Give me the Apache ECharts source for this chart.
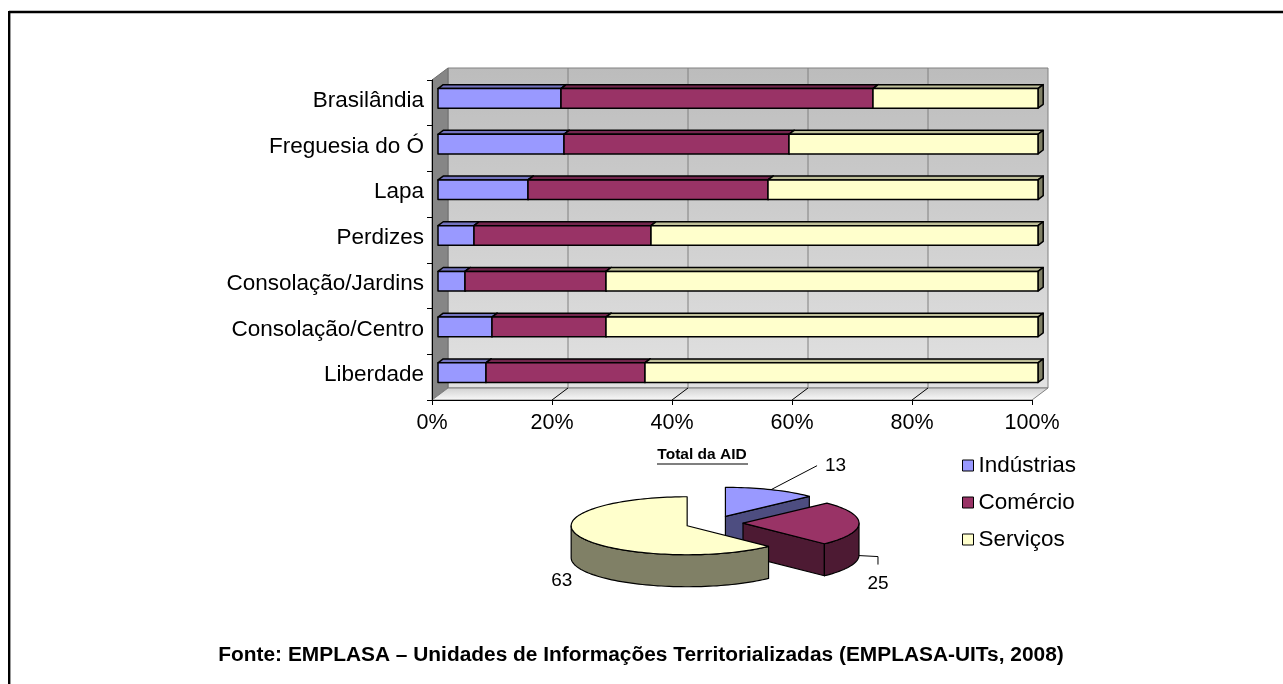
<!DOCTYPE html>
<html>
<head>
<meta charset="utf-8">
<script src="https://cdn.jsdelivr.net/npm/echarts@6/dist/echarts.min.js"></script>
<style>
  html, body { margin: 0; padding: 0; background: #ffffff; }
  #chart { width: 1283px; height: 684px; }
</style>
</head>
<body>
<div id="chart"></div>
<script>
// ---- data ----
const categories = ['Brasilândia', 'Freguesia do Ó', 'Lapa', 'Perdizes', 'Consolação/Jardins', 'Consolação/Centro', 'Liberdade'];
const seriesNames = ['Indústrias', 'Comércio', 'Serviços'];
const industrias = [20.5, 21, 15, 6, 4.5, 9, 8];
const comercio   = [52, 37.5, 40, 29.5, 23.5, 19, 26.5];
const servicos   = [27.5, 41.5, 45, 64.5, 72, 72, 65.5];
const pieTitle = 'Total da AID';
const pieValues = [13, 25, 63];
const footerText = 'Fonte: EMPLASA – Unidades de Informações Territorializadas (EMPLASA-UITs, 2008)';

// ---- styling / layout ----
const FONT = '"Liberation Sans", Arial, sans-serif';
const faceColors = ['#9999FF', '#993366', '#FFFFCC'];
const topColors  = ['#7373BF', '#73264D', '#BFBF99'];
const sideColors = ['#4D4D80', '#4D1A33', '#808066'];
const DEPTH = { dx: 16, dy: -12 };          // oblique depth of the 3D box
const BAR_FRONT = 0.375, BAR_BACK = 0.7;    // bar position inside the depth
const BAR_RATIO = 0.43;                     // bar thickness relative to band
const PIE = { cx: 714, cy: 523, rx: 116, ry: 29, depth: 32, explode: 0.25 };

// stacked [start, end, categoryIndex] per series
const stacks = [industrias, comercio, servicos];
const stackData = stacks.map((arr, k) => arr.map((v, i) => {
  let start = 0;
  for (let j = 0; j < k; j++) start += stacks[j][i];
  return [start, start + v, i];
}));

// pie angles, clockwise from 12 o'clock
const pieTotal = pieValues.reduce((a, b) => a + b, 0);
const pieAngles = [];
(function () {
  let acc = 0;
  pieValues.forEach(v => {
    const a0 = acc / pieTotal * 360;
    acc += v;
    pieAngles.push([a0, acc / pieTotal * 360]);
  });
})();
// label placement relative to the slice anchor
const pieLabelLayout = [
  { line: [[46, -24]], text: [54, -24], align: 'left' },
  { line: [[19, 1], [19, 9]], text: [19, 28], align: 'center' },
  { line: [], text: [-18, 12], align: 'center' }
];

// ---- 3D box walls ----
function wallRender(params, api) {
  const cs = params.coordSys;
  const x = cs.x, y = cs.y, w = cs.width, h = cs.height;
  const dx = DEPTH.dx, dy = DEPTH.dy;
  const children = [];
  children.push({
    type: 'polygon',
    shape: { points: [[x + dx, y + dy], [x + w + dx, y + dy], [x + w + dx, y + h + dy], [x + dx, y + h + dy]] },
    style: {
      fill: new echarts.graphic.LinearGradient(0, 0, 0, 1, [
        { offset: 0, color: '#BCBCBC' }, { offset: 1, color: '#E2E2E2' }
      ]),
      stroke: '#808080', lineWidth: 1
    }
  });
  children.push({
    type: 'polygon',
    shape: { points: [[x, y], [x + dx, y + dy], [x + dx, y + h + dy], [x, y + h]] },
    style: { fill: '#868686', stroke: '#6E6E6E', lineWidth: 1 }
  });
  children.push({
    type: 'polygon',
    shape: { points: [[x, y + h], [x + w, y + h], [x + w + dx, y + h + dy], [x + dx, y + h + dy]] },
    style: {
      fill: new echarts.graphic.LinearGradient(0, 0, 0, 1, [
        { offset: 0, color: '#D0D0D0' }, { offset: 1, color: '#FAFAFA' }
      ]),
      stroke: '#808080', lineWidth: 1
    }
  });
  [20, 40, 60, 80].forEach(v => {
    const px = api.coord([v, 0])[0];
    children.push({
      type: 'line',
      shape: { x1: px + dx, y1: y + dy, x2: px + dx, y2: y + h + dy },
      style: { stroke: '#808080', lineWidth: 1 }
    });
    children.push({
      type: 'line',
      shape: { x1: px, y1: y + h, x2: px + dx, y2: y + h + dy },
      style: { stroke: '#000', lineWidth: 1 }
    });
  });
  return { type: 'group', children: children, silent: true };
}

// ---- 3D bar segments ----
function barRender(k) {
  return function (params, api) {
    const s = api.value(0), e = api.value(1), ci = api.value(2);
    const a = api.coord([s, ci]), b = api.coord([e, ci]);
    const band = api.size([0, 1])[1];
    const h = band * BAR_RATIO;
    const fx = DEPTH.dx * BAR_FRONT, fy = DEPTH.dy * BAR_FRONT;
    const tdx = DEPTH.dx * (BAR_BACK - BAR_FRONT), tdy = DEPTH.dy * (BAR_BACK - BAR_FRONT);
    const x0 = a[0] + fx, x1 = b[0] + fx;
    const yc = a[1] + fy, y0 = yc - h / 2, y1 = yc + h / 2;
    const line = { stroke: '#000', lineWidth: 1.5, lineJoin: 'round' };
    return {
      type: 'group',
      children: [
        { type: 'polygon', shape: { points: [[x0, y0], [x1, y0], [x1 + tdx, y0 + tdy], [x0 + tdx, y0 + tdy]] },
          style: Object.assign({ fill: topColors[k] }, line) },
        { type: 'polygon', shape: { points: [[x1, y0], [x1 + tdx, y0 + tdy], [x1 + tdx, y1 + tdy], [x1, y1]] },
          style: Object.assign({ fill: sideColors[k] }, line) },
        { type: 'rect', shape: { x: x0, y: y0, width: x1 - x0, height: h },
          style: Object.assign({ fill: faceColors[k] }, line) }
      ]
    };
  };
}

// ---- 3D pie ----
function rimPoint(c, deg, dz) {
  const r = deg * Math.PI / 180;
  return [c[0] + PIE.rx * Math.sin(r), c[1] - PIE.ry * Math.cos(r) + (dz || 0)];
}
function arcPoints(c, a0, a1, dz) {
  const pts = [];
  const n = Math.max(2, Math.ceil((a1 - a0) / 2));
  for (let i = 0; i <= n; i++) pts.push(rimPoint(c, a0 + (a1 - a0) * i / n, dz));
  return pts;
}
function pieRender(params, api) {
  const idx = params.dataIndex;
  const val = api.value(0);
  const a0 = pieAngles[idx][0], a1 = pieAngles[idx][1];
  const mid = (a0 + a1) / 2, mr = mid * Math.PI / 180;
  const c = [PIE.cx + PIE.rx * PIE.explode * Math.sin(mr), PIE.cy - PIE.ry * PIE.explode * Math.cos(mr)];
  const d = PIE.depth;
  const line = { stroke: '#000', lineWidth: 1.2, lineJoin: 'round' };
  const kids = [];
  // cut faces that face the viewer
  if (a1 > 0 && a1 < 180) {
    const p = rimPoint(c, a1);
    kids.push({ type: 'polygon', shape: { points: [c, p, [p[0], p[1] + d], [c[0], c[1] + d]] },
      style: Object.assign({ fill: sideColors[idx] }, line) });
  }
  if (a0 > 180 && a0 < 360) {
    const p = rimPoint(c, a0);
    kids.push({ type: 'polygon', shape: { points: [c, p, [p[0], p[1] + d], [c[0], c[1] + d]] },
      style: Object.assign({ fill: sideColors[idx] }, line) });
  }
  // outer wall on the front half
  const w0 = Math.max(a0, 90), w1 = Math.min(a1, 270);
  if (w1 > w0) {
    const top = arcPoints(c, w0, w1, 0);
    const bottom = arcPoints(c, w0, w1, d).reverse();
    kids.push({ type: 'polygon', shape: { points: top.concat(bottom) },
      style: Object.assign({ fill: sideColors[idx] }, line) });
  }
  // top face
  kids.push({ type: 'polygon', shape: { points: [c].concat(arcPoints(c, a0, a1, 0)) },
    style: Object.assign({ fill: faceColors[idx] }, line) });
  // value label
  const anchor = rimPoint(c, mid, (mid > 90 && mid < 270) ? d : 0);
  const lay = pieLabelLayout[idx];
  if (lay.line.length) {
    kids.push({ type: 'polyline',
      shape: { points: [anchor].concat(lay.line.map(o => [anchor[0] + o[0], anchor[1] + o[1]])) },
      style: { stroke: '#000', lineWidth: 1, fill: null } });
  }
  kids.push({ type: 'text', style: {
    text: String(val), x: anchor[0] + lay.text[0], y: anchor[1] + lay.text[1],
    align: lay.align, verticalAlign: 'middle', fill: '#000', fontSize: 19, fontFamily: FONT } });
  return { type: 'group', children: kids, z2: idx * 10 };
}

const chart = echarts.init(document.getElementById('chart'), null, { renderer: 'canvas' });
const option = {
  animation: false,
  backgroundColor: '#ffffff',
  textStyle: { fontFamily: FONT },
  grid: { left: 432, top: 80, width: 600, height: 320, containLabel: false },
  xAxis: {
    type: 'value', min: 0, max: 100, interval: 20, z: 10,
    axisLine: { show: true, lineStyle: { color: '#000', width: 1 } },
    axisTick: { show: true, length: 5, lineStyle: { color: '#000' } },
    axisLabel: { formatter: '{value}%', fontSize: 21.5, color: '#000', margin: 12, fontFamily: FONT },
    splitLine: { show: false }
  },
  yAxis: {
    type: 'category', data: categories, inverse: true, z: 10,
    axisLine: { show: true, lineStyle: { color: '#000', width: 1 } },
    axisTick: { show: true, length: 5, lineStyle: { color: '#000' } },
    // labels sit level with the bars, which are set back into the depth
    axisLabel: { fontSize: 22.5, color: '#000', margin: 8, verticalAlign: 'bottom', lineHeight: 4, fontFamily: FONT }
  },
  legend: {
    orient: 'vertical', left: 957, top: 449, itemWidth: 11, itemHeight: 11, itemGap: 14,
    icon: 'rect',
    textStyle: { fontSize: 22.5, color: '#000', fontFamily: FONT },
    data: seriesNames.map((n, i) => ({ name: n, itemStyle: { color: faceColors[i], borderColor: '#000', borderWidth: 1 } }))
  },
  graphic: [
    { type: 'line', shape: { x1: 9, y1: 12, x2: 1283, y2: 12 }, style: { stroke: '#000', lineWidth: 2.4 } },
    { type: 'line', shape: { x1: 9.2, y1: 11, x2: 9.2, y2: 684 }, style: { stroke: '#000', lineWidth: 2.4 } },
    { type: 'text', x: 702, y: 455, style: { text: pieTitle, align: 'center', verticalAlign: 'middle',
        fontSize: 15.5, fontWeight: 'bold', fill: '#000', fontFamily: FONT } },
    { type: 'line', shape: { x1: 657, y1: 464, x2: 748, y2: 464 }, style: { stroke: '#000', lineWidth: 1.2 } },
    { type: 'text', x: 641, y: 655, style: { text: footerText, align: 'center', verticalAlign: 'middle',
        fontSize: 20.9, fontWeight: 'bold', fill: '#000', fontFamily: FONT } }
  ],
  series: [
    { type: 'custom', name: 'parede', coordinateSystem: 'cartesian2d', renderItem: wallRender,
      data: [[0, 0]], z: 1, silent: true, clip: false }
  ].concat(seriesNames.map((n, k) => ({
    type: 'custom', name: n, coordinateSystem: 'cartesian2d', renderItem: barRender(k),
    encode: { x: [0, 1], y: 2 }, data: stackData[k], z: 3 + k, clip: false,
    itemStyle: { color: faceColors[k], borderColor: '#000', borderWidth: 1 }
  }))).concat([
    { type: 'custom', name: pieTitle, coordinateSystem: 'none', renderItem: pieRender,
      data: pieValues.map((v, i) => [v, i]), z: 5 }
  ])
};
chart.setOption(option);
</script>
</body>
</html>
